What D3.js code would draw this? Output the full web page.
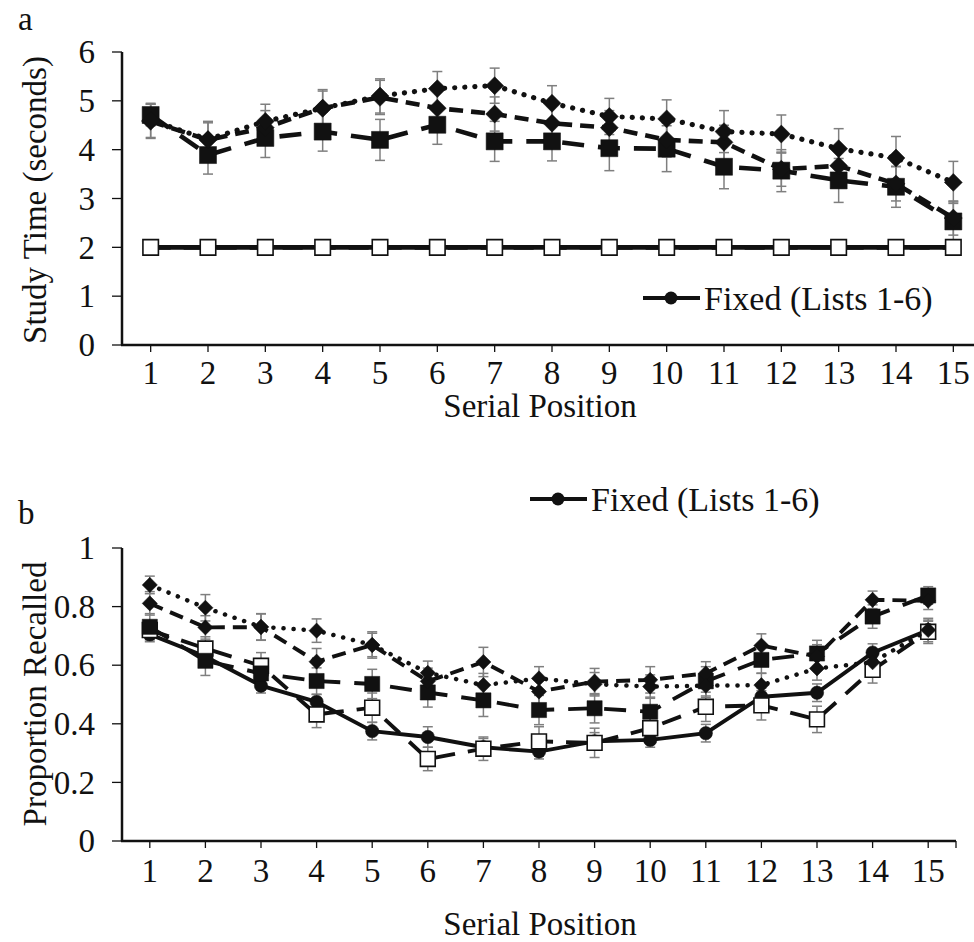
<!DOCTYPE html>
<html lang="en">
  <head>
    <meta charset="UTF-8" />
    <title>serial position study time and recall</title>
    <style>
      body { margin: 0; background: #fff; }
      text { font-family: "Liberation Serif", "Times New Roman", serif; fill: #111; }
    </style>
  </head>
  <body>
    <svg id="svg" width="974" height="942"></svg>

    <script src="https://d3js.org/d3.v7.min.js"></script>
    <script>
      const positions = [1, 2, 3, 4, 5, 6, 7, 8, 9, 10, 11, 12, 13, 14, 15];
      const legendLabel = "Fixed (Lists 1-6)";

      // panel a: study time (seconds)
      const timeFixed = [2, 2, 2, 2, 2, 2, 2, 2, 2, 2, 2, 2, 2, 2, 2];
      const timeOpenSq = [2, 2, 2, 2, 2, 2, 2, 2, 2, 2, 2, 2, 2, 2, 2];
      const timeSquare = [4.71, 3.89, 4.24, 4.37, 4.2, 4.51, 4.17, 4.17, 4.03, 4.02, 3.65, 3.57, 3.37, 3.24, 2.53];
      const timeSquareErr = [0.22, 0.39, 0.4, 0.4, 0.42, 0.4, 0.41, 0.4, 0.46, 0.47, 0.45, 0.43, 0.45, 0.42, 0.4];
      const timeDashDia = [4.58, 4.2, 4.45, 4.85, 5.07, 4.85, 4.73, 4.54, 4.45, 4.2, 4.15, 3.6, 3.67, 3.3, 2.6];
      const timeDashDiaErr = [0.35, 0.35, 0.35, 0.35, 0.35, 0.35, 0.35, 0.35, 0.35, 0.35, 0.35, 0.35, 0.35, 0.35, 0.35];
      const timeDotDia = [4.6, 4.21, 4.58, 4.85, 5.1, 5.25, 5.31, 4.95, 4.68, 4.63, 4.37, 4.32, 4.02, 3.83, 3.33];
      const timeDotDiaErr = [0.35, 0.37, 0.35, 0.38, 0.35, 0.35, 0.36, 0.36, 0.37, 0.39, 0.43, 0.39, 0.41, 0.44, 0.43];
      const timeTicks = [0, 1, 2, 3, 4, 5, 6];

      // panel b: proportion recalled
      const recFixed = [0.705, 0.63, 0.53, 0.475, 0.375, 0.355, 0.32, 0.305, 0.34, 0.345, 0.368, 0.492, 0.506, 0.643, 0.72];
      const recFixedErr = [0.025, 0.025, 0.025, 0.025, 0.03, 0.035, 0.03, 0.025, 0.03, 0.025, 0.03, 0.03, 0.03, 0.03, 0.03];
      const recOpenSq = [0.72, 0.657, 0.598, 0.432, 0.455, 0.28, 0.315, 0.34, 0.335, 0.385, 0.458, 0.463, 0.415, 0.584, 0.714];
      const recOpenSqErr = [0.03, 0.04, 0.045, 0.045, 0.05, 0.04, 0.04, 0.05, 0.05, 0.05, 0.05, 0.05, 0.045, 0.045, 0.04];
      const recSquare = [0.731, 0.615, 0.572, 0.546, 0.536, 0.507, 0.48, 0.447, 0.453, 0.441, 0.545, 0.618, 0.64, 0.766, 0.838];
      const recSquareErr = [0.045, 0.05, 0.045, 0.045, 0.05, 0.05, 0.055, 0.05, 0.05, 0.05, 0.05, 0.045, 0.045, 0.04, 0.03];
      const recDashDia = [0.811, 0.729, 0.73, 0.612, 0.669, 0.545, 0.611, 0.51, 0.544, 0.55, 0.572, 0.667, 0.63, 0.823, 0.82];
      const recDashDiaErr = [0.04, 0.04, 0.045, 0.045, 0.045, 0.045, 0.05, 0.045, 0.045, 0.045, 0.04, 0.04, 0.04, 0.03, 0.03];
      const recDotDia = [0.874, 0.796, 0.731, 0.718, 0.669, 0.574, 0.532, 0.555, 0.535, 0.527, 0.53, 0.532, 0.589, 0.61, 0.72];
      const recDotDiaErr = [0.03, 0.045, 0.045, 0.04, 0.04, 0.04, 0.04, 0.04, 0.04, 0.04, 0.04, 0.04, 0.04, 0.04, 0.04];
      const recTicks = [0, 0.2, 0.4, 0.6, 0.8, 1];

      const svg = d3.select("#svg");
      const ink = "#111";
      const errGray = "#7f7f7f";

      function drawPanel(p) {
        const g = svg.append("g");
        const x = d3.scaleBand().domain(positions).range([122, p.xEnd]);
        const y = d3.scaleLinear().domain(p.yDomain).range([p.yBottom, p.yTop]);
        const cx = (d) => x(d) + x.bandwidth() / 2;

        // axes
        g.append("line").attr("x1", 122).attr("x2", 122).attr("y1", p.yTop).attr("y2", p.yBottom)
          .attr("stroke", ink).attr("stroke-width", 2.5);
        g.append("line").attr("x1", 121).attr("x2", p.xEnd).attr("y1", p.yBottom).attr("y2", p.yBottom)
          .attr("stroke", ink).attr("stroke-width", 2.5);
        g.selectAll(".ytick").data(p.ticks).enter().append("line")
          .attr("x1", 112).attr("x2", 122)
          .attr("y1", (d) => y(d)).attr("y2", (d) => y(d))
          .attr("stroke", ink).attr("stroke-width", 1.3);
        g.selectAll(".ylab").data(p.ticks).enter().append("text")
          .attr("x", 95).attr("y", (d) => y(d)).attr("dy", "0.34em")
          .attr("text-anchor", "end").style("font-size", p.font + "px")
          .text((d) => d);
        const xt = positions.map(cx).concat(p.endTick ? [p.xEnd] : []);
        g.selectAll(".xtick").data(xt).enter().append("line")
          .attr("x1", (d) => d).attr("x2", (d) => d)
          .attr("y1", p.yBottom).attr("y2", p.yBottom + 7)
          .attr("stroke", ink).attr("stroke-width", 1.3);
        g.selectAll(".xlab").data(positions).enter().append("text")
          .attr("x", cx).attr("y", p.xLabY)
          .attr("text-anchor", "middle").style("font-size", p.font + "px")
          .text((d) => d);
        g.append("text").attr("x", 540).attr("y", p.xTitleY).attr("text-anchor", "middle")
          .style("font-size", p.font + "px").text("Serial Position");
        g.append("text")
          .attr("transform", `translate(${p.yTitleX},${p.yTitleY}) rotate(-90)`)
          .attr("text-anchor", "middle").style("font-size", p.font + "px").text(p.yTitle);
        g.append("text").attr("x", 18).attr("y", p.letterY).style("font-size", p.font + "px").text(p.letter);

        // error bars
        p.series.filter((s) => s.err).forEach((s) => {
          const eb = g.append("g").attr("stroke", errGray).attr("stroke-width", 1.5);
          positions.forEach((pos, i) => {
            const lo = y(s.values[i] - s.err[i]);
            const hi = y(s.values[i] + s.err[i]);
            const c = cx(pos);
            eb.append("line").attr("x1", c).attr("x2", c).attr("y1", lo).attr("y2", hi);
            eb.append("line").attr("x1", c - 5).attr("x2", c + 5).attr("y1", lo).attr("y2", lo);
            eb.append("line").attr("x1", c - 5).attr("x2", c + 5).attr("y1", hi).attr("y2", hi);
          });
        });

        // lines and markers
        const line = d3.line().x((d, i) => cx(positions[i])).y((d) => y(d));
        p.series.forEach((s) => {
          g.append("path").datum(s.values).attr("d", line)
            .attr("fill", "none").attr("stroke", ink).attr("stroke-width", s.cap ? p.lw + 0.6 : p.lw)
            .attr("stroke-dasharray", s.dash).attr("stroke-linecap", s.cap || "butt");
          const sym = d3.symbol().type(s.shape).size(s.size);
          g.selectAll(null).data(s.values).enter().append("path")
            .attr("d", sym)
            .attr("transform", (d, i) => `translate(${cx(positions[i])},${y(d)})` + (s.rot ? " rotate(45)" : ""))
            .attr("fill", s.open ? "#fff" : ink)
            .attr("stroke", ink).attr("stroke-width", s.open ? 1.6 : 0.5);
        });

        // legend (only the fixed condition is shown)
        const lg = g.append("g").attr("transform", `translate(${p.legX},${p.legY})`);
        lg.append("line").attr("x1", 0).attr("x2", 57).attr("y1", 0).attr("y2", 0)
          .attr("stroke", ink).attr("stroke-width", 4);
        lg.append("circle").attr("cx", 28).attr("cy", 0).attr("r", 6.5).attr("fill", ink);
        lg.append("text").attr("x", 61).attr("y", 0).attr("dy", "0.34em")
          .style("font-size", p.font + 1 + "px").text(legendLabel);
      }

      function seriesSet(v, sz) {
        return [
          { values: v.fixed, err: v.fixedErr, shape: d3.symbolCircle, size: sz.circle, dash: null },
          { values: v.open, err: v.openErr, shape: d3.symbolSquare, size: sz.open, dash: "20,13", open: true },
          { values: v.square, err: v.squareErr, shape: d3.symbolSquare, size: sz.square, dash: "22,14" },
          { values: v.dash, err: v.dashErr, shape: d3.symbolSquare, size: sz.dia, dash: "14,8", rot: true },
          { values: v.dot, err: v.dotErr, shape: d3.symbolSquare, size: sz.dia, dash: "0.1,10", cap: "round", rot: true },
        ];
      }

      drawPanel({
        letter: "a", letterY: 30, yTitle: "Study Time (seconds)",
        yDomain: [0, 6], ticks: timeTicks, yTop: 52, yBottom: 345, xEnd: 982,
        endTick: false, xLabY: 384, xTitleY: 417, yTitleX: 46, yTitleY: 200,
        font: 33, lw: 4.6, legX: 643, legY: 298,
        series: seriesSet(
          { fixed: timeFixed, open: timeOpenSq, openErr: null, square: timeSquare, squareErr: timeSquareErr,
            dash: timeDashDia, dashErr: timeDashDiaErr, dot: timeDotDia, dotErr: timeDotDiaErr },
          { circle: 150, open: 240, square: 290, dia: 160 }
        ),
      });

      drawPanel({
        letter: "b", letterY: 524, yTitle: "Proportion Recalled",
        yDomain: [0, 1], ticks: recTicks, yTop: 548, yBottom: 841, xEnd: 956,
        endTick: true, xLabY: 882, xTitleY: 935, yTitleX: 46, yTitleY: 694,
        font: 33, lw: 3.9, legX: 530, legY: 499,
        series: seriesSet(
          { fixed: recFixed, fixedErr: recFixedErr, open: recOpenSq, openErr: recOpenSqErr,
            square: recSquare, squareErr: recSquareErr, dash: recDashDia, dashErr: recDashDiaErr,
            dot: recDotDia, dotErr: recDotDiaErr },
          { circle: 140, open: 220, square: 230, dia: 115 }
        ),
      });
    </script>
  </body>
</html>
